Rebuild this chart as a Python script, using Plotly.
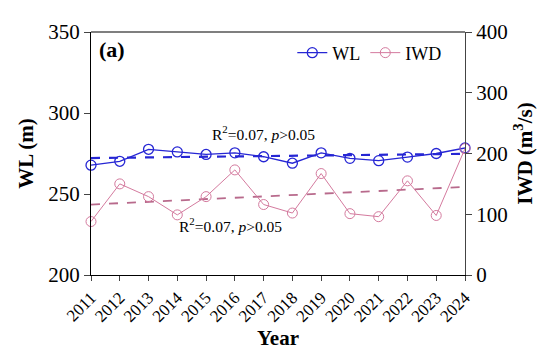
import plotly.graph_objects as go

years = list(range(2011, 2025))
wl = [267.8, 270.2, 277.6, 276.0, 274.4, 275.4, 273.0, 269.0, 275.4, 272.0, 270.6, 272.8, 275.0, 278.4]
iwd = [88, 150, 129, 99, 129, 173, 116, 102, 167, 101, 96, 155, 98, 208]
wl_trend_x = [2011, 2024]
wl_trend_y = [272.2, 274.8]
iwd_trend_x = [2011, 2024]
iwd_trend_y = [116, 145]

BLUE = "#2626d4"
PINK = "#d47a9e"
FONT = "Liberation Serif, Times New Roman, serif"

fig = go.Figure()
fig.add_trace(go.Scatter(x=wl_trend_x, y=wl_trend_y, mode="lines",
                         line=dict(color=BLUE, width=2.2, dash="dash"),
                         showlegend=False, yaxis="y"))
fig.add_trace(go.Scatter(x=iwd_trend_x, y=iwd_trend_y, mode="lines",
                         line=dict(color="#b86a8c", width=1.8, dash="dash"),
                         showlegend=False, yaxis="y2"))
fig.add_trace(go.Scatter(x=years, y=wl, mode="lines+markers", name="WL",
                         line=dict(color=BLUE, width=1.3),
                         marker=dict(symbol="circle-open", size=10, color=BLUE, line=dict(width=1.3)),
                         cliponaxis=False, yaxis="y"))
fig.add_trace(go.Scatter(x=years, y=iwd, mode="lines+markers", name="IWD",
                         line=dict(color=PINK, width=1),
                         marker=dict(symbol="circle-open", size=10, color=PINK, line=dict(width=1)),
                         cliponaxis=False, yaxis="y2"))

fig.update_layout(
    width=550, height=354,
    margin=dict(l=83, r=93, t=17, b=87),
    paper_bgcolor="white", plot_bgcolor="white",
    font=dict(family=FONT, color="black"),
    xaxis=dict(range=[2011, 2024], tickmode="array", tickvals=years,
               ticktext=[str(y) for y in years], tickangle=-45,
               tickfont=dict(size=17), ticks="outside", ticklen=5,
               showline=True, linecolor="black", linewidth=1.2,
               showgrid=False, zeroline=False,
               title=dict(text="<b>Year</b>", font=dict(size=21), standoff=2)),
    yaxis=dict(range=[200, 350], tickvals=[200, 250, 300, 350],
               tickfont=dict(size=21), ticks="outside", ticklen=6,
               showline=True, linecolor="black", linewidth=1.2,
               showgrid=False, zeroline=False,
               title=dict(text="<b>WL (m)</b>", font=dict(size=21), standoff=8)),
    yaxis2=dict(range=[0, 400], tickvals=[0, 100, 200, 300, 400],
                overlaying="y", side="right",
                tickfont=dict(size=21), ticks="outside", ticklen=6,
                showline=True, linecolor="#444", linewidth=1.2,
                showgrid=False, zeroline=False,
                title=dict(text="<b>IWD (m<sup>3</sup>/s)</b>", font=dict(size=21), standoff=10)),
    legend=dict(orientation="h", x=0.95, y=0.99, xanchor="right", yanchor="top",
                font=dict(size=18), bgcolor="rgba(0,0,0,0)", itemwidth=30,
                tracegroupgap=0),
    shapes=[dict(type="line", xref="paper", yref="paper", x0=0, x1=1, y0=1, y1=1,
                 line=dict(color="#555", width=1.5))],
    annotations=[
        dict(text="<b>(a)</b>", xref="paper", yref="paper", x=0.015, y=0.93,
             xanchor="left", yanchor="middle", showarrow=False, font=dict(size=22)),
        dict(text="R<sup>2</sup>=0.07, <i>p</i>>0.05", xref="paper", yref="paper",
             x=0.462, y=0.584, showarrow=False, font=dict(size=15.5)),
        dict(text="R<sup>2</sup>=0.07, <i>p</i>>0.05", xref="paper", yref="paper",
             x=0.372, y=0.156, showarrow=False, font=dict(size=15.5)),
    ],
)

fig.write_html("out.html")
